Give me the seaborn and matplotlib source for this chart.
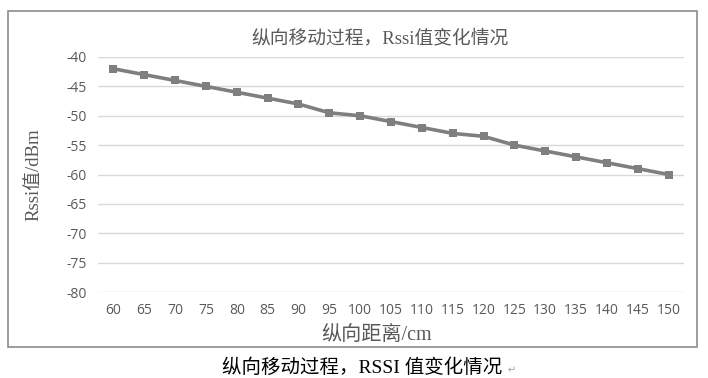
import pandas as pd
import seaborn as sns
import matplotlib.pyplot as plt
from matplotlib.patches import Rectangle

# Distancia longitudinal (cm) e valores de RSSI (dBm)
distancia = [60, 65, 70, 75, 80, 85, 90, 95, 100, 105, 110, 115, 120, 125, 130, 135, 140, 145, 150]
rssi = [-42, -43, -44, -45, -46, -47, -48, -49.5, -50, -51, -52, -53, -53.5, -55, -56, -57, -58, -59, -60]
y_ticks = [-40, -45, -50, -55, -60, -65, -70, -75, -80]

dados = pd.DataFrame({'distancia': distancia, 'rssi': rssi})

sns.set_style('white')
plt.rcParams['font.family'] = ['Liberation Serif', 'Noto Sans CJK SC', 'DejaVu Sans']
plt.rcParams['axes.unicode_minus'] = False

W, H = 708, 378
fig = plt.figure(figsize=(W / 100, H / 100), dpi=100)
ax = fig.add_axes([98 / W, 1 - 292 / H, (684 - 98) / W, (292 - 57) / H])

# moldura do grafico
fig.patches.append(Rectangle((8 / W, 1 - 347 / H), (697 - 8) / W, (347 - 11) / H,
                             transform=fig.transFigure, fill=False,
                             edgecolor='#8c8c8c', linewidth=1.2))

sns.lineplot(data=dados, x='distancia', y='rssi', ax=ax, color='#7f7f7f',
             linewidth=2.6, marker='s', markersize=6, markeredgewidth=0)

ax.set_xlim(57.5, 152.5)
ax.set_ylim(-80, -40)
ax.set_xticks(distancia)
ax.set_yticks(y_ticks)
ax.grid(axis='y', color='#d9d9d9', linewidth=1)
ax.set_axisbelow(True)
for s in ax.spines.values():
    s.set_visible(False)
ax.tick_params(length=0, labelsize=10, labelcolor='#595959', pad=8)
plt.setp(ax.get_xticklabels() + ax.get_yticklabels(), family=['Open Sans', 'DejaVu Sans'])

ax.set_xlabel('纵向距离/cm', fontsize=14.5, color='#595959')
ax.xaxis.set_label_coords((377 - 98) / (684 - 98), -(326 - 292) / (292 - 57))
ax.set_ylabel('Rssi值/dBm', fontsize=13.5, color='#595959')
ax.yaxis.set_label_coords(-(98 - 42) / (684 - 98), 0.5)

fig.text(380 / W, 1 - 38 / H, '纵向移动过程，Rssi值变化情况', ha='center', va='center',
         fontsize=13.5, color='#595959')
fig.text(362 / W, 1 - 368 / H, '纵向移动过程，RSSI 值变化情况', ha='center', va='center',
         fontsize=14, color='black')
fig.text(508 / W, 1 - 370 / H, '↵', ha='left', va='center', fontsize=7,
         color='#a0a0a0', family='DejaVu Sans')

plt.savefig('out.png', dpi=100)
